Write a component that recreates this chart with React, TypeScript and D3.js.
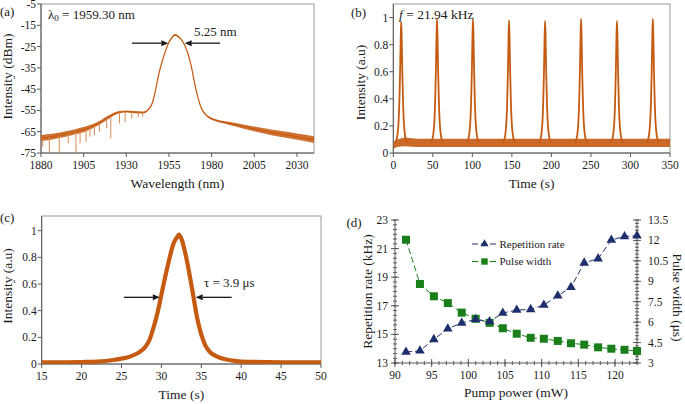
import React from 'react';
import * as d3 from 'd3';

const FONT = "'Liberation Serif', 'Times New Roman', serif";
const ORANGE = '#C55A11';
const AXIS = '#595959';
const FRAME = '#9a9a9a';
const NAVY = '#1F2F6E';
const GREEN = '#1A7F1A';

// ---------- (a) optical spectrum ----------
const wavelength = [1880, 1885, 1890, 1895, 1900, 1905, 1910, 1915, 1920, 1925, 1930, 1935, 1940, 1943, 1945, 1947, 1949, 1951, 1953, 1955, 1957, 1958.5, 1960, 1962, 1964, 1966, 1968, 1970, 1972, 1974, 1976, 1978, 1982, 1990, 2000, 2010, 2020, 2030, 2040];
const spectrumDbm = [-68, -67.5, -66.8, -66, -65, -64, -62.5, -60.5, -58, -56, -55.5, -55.8, -56, -54.5, -52, -46, -38, -32, -27, -23, -20.5, -19.5, -20, -21.5, -24, -28, -34, -42, -49, -54, -56.5, -58, -59.5, -61, -62.8, -64.5, -66, -67.3, -68.7];
const spectrumNoise = [1.4, 1.4, 1.3, 1.3, 1.2, 1.2, 1.0, 0.9, 0.8, 0.6, 0.5, 0.5, 0.5, 0.3, 0.2, 0.2, 0.2, 0.2, 0.2, 0.3, 0.4, 0.4, 0.4, 0.3, 0.2, 0.2, 0.2, 0.2, 0.2, 0.2, 0.3, 0.4, 0.5, 0.7, 1.0, 1.2, 1.4, 1.5, 1.6];
const dipWavelength = [1881, 1884.9, 1890.7, 1896, 1900.5, 1902.9, 1906.4, 1908.7, 1911.3, 1914.2, 1918.5, 1920.9, 1926, 1929.3, 1933.2, 1937, 1939.6];
const dipDbm = [-72, -75, -75, -70.4, -75, -70.4, -69.7, -67.3, -66.5, -65, -63.4, -68.1, -61, -60.3, -58.7, -58.2, -57.9];
const spectrumXTicks = [1880, 1905, 1930, 1955, 1980, 2005, 2030];
const spectrumYTicks = [-75, -65, -55, -45, -35, -25, -15, -5];
const fwhmArrowsA = [[1933.3, 1954.6], [1985, 1964.2]];
const fwhmLevelA = -23.4;

// ---------- (b) pulse train ----------
const pulseTimes = [10, 55.3, 100.8, 146.4, 192, 237.5, 282.9, 328.3];
const pulseHeights = [0.97, 0.99, 0.99, 0.98, 0.975, 0.99, 0.975, 0.99];
const pulseOffsets = [-8, -6, -4.5, -3.3, -2.3, -1.4, -0.6, 0, 0.6, 1.4, 2.3, 3.3, 4.5, 6, 8];
const pulseShape = [0.08, 0.1, 0.15, 0.24, 0.4, 0.62, 0.88, 1, 0.88, 0.62, 0.4, 0.24, 0.15, 0.1, 0.08];
const baselineTimes = [0, 4, 14, 30, 50, 350];
const baselineLow = [0.03, 0.045, 0.05, 0.045, 0.045, 0.045];
const baselineHigh = [0.08, 0.1, 0.115, 0.105, 0.105, 0.105];
const trainXTicks = [0, 50, 100, 150, 200, 250, 300, 350];
const trainYTicks = [0, 0.2, 0.4, 0.6, 0.8, 1];

// ---------- (c) single pulse ----------
const singleTime = [15, 20, 22, 24, 25, 26, 27, 28, 28.5, 29, 29.5, 30, 30.5, 31, 31.5, 32, 32.2, 32.5, 33, 33.5, 34, 34.5, 35, 35.5, 36, 37, 38, 39, 40, 45, 50];
const singleIntensity = [0.012, 0.015, 0.018, 0.03, 0.04, 0.055, 0.08, 0.13, 0.18, 0.27, 0.38, 0.52, 0.66, 0.79, 0.9, 0.955, 0.97, 0.94, 0.83, 0.68, 0.51, 0.34, 0.22, 0.14, 0.095, 0.055, 0.035, 0.025, 0.018, 0.013, 0.012];
const singleXTicks = [15, 20, 25, 30, 35, 40, 45, 50];
const singleYTicks = [0, 0.2, 0.4, 0.6, 0.8, 1];
const fwhmArrowsC = [[25.3, 29.8], [38.8, 34.3]];
const fwhmLevelC = 0.5;

// ---------- (d) vs pump power ----------
const pumpPower = [91.5, 93.4, 95.3, 97.2, 99.1, 101, 102.9, 104.7, 106.6, 108.5, 110.3, 112.2, 114, 115.8, 117.7, 119.5, 121.3, 123];
const repRate = [13.77, 13.85, 14.65, 15.4, 15.8, 16.05, 15.9, 16.5, 16.7, 16.75, 17.05, 17.7, 18.3, 20.0, 20.3, 21.6, 21.85, 21.9];
const pulseWidth = [12.05, 8.8, 7.9, 7.4, 6.7, 6.25, 5.95, 5.55, 5.15, 4.85, 4.78, 4.62, 4.45, 4.35, 4.15, 4.05, 3.97, 3.88];
const pumpTicks = [90, 95, 100, 105, 110, 115, 120];
const repTicks = [13, 15, 17, 19, 21, 23];
const widthTicks = [3, 4.5, 6, 7.5, 9, 10.5, 12, 13.5];
const legendLabels = ['Repetition rate', 'Pulse width'];

type Box = { l: number; r: number; t: number; b: number };

function T(props: any) {
  const { children, ...rest } = props;
  return <text fontFamily={FONT} fill="#1a1a1a" {...rest}>{children}</text>;
}

function FramedAxes({ box, x, y, xTicks, yTicks }: { box: Box; x: any; y: any; xTicks: number[]; yTicks: number[] }) {
  return (
    <g>
      <rect x={box.l} y={box.t} width={box.r - box.l} height={box.b - box.t} fill="none" stroke={FRAME} strokeWidth={1} />
      <line x1={box.l} x2={box.l} y1={box.t} y2={box.b} stroke={AXIS} strokeWidth={1} />
      <line x1={box.l} x2={box.r} y1={box.b} y2={box.b} stroke={AXIS} strokeWidth={1} />
      {xTicks.map((v) => (
        <g key={'x' + v}>
          <line x1={x(v)} x2={x(v)} y1={box.b} y2={box.b + 4} stroke={AXIS} />
          <T x={x(v)} y={box.b + 15.5} fontSize={11.5} textAnchor="middle">{v}</T>
        </g>
      ))}
      {yTicks.map((v) => (
        <g key={'y' + v}>
          <line x1={box.l - 4} x2={box.l} y1={y(v)} y2={y(v)} stroke={AXIS} />
          <T x={box.l - 5} y={y(v)} dy="0.35em" fontSize={11.5} textAnchor="end">{v}</T>
        </g>
      ))}
    </g>
  );
}

function Arrow({ x1, x2, y }: { x1: number; x2: number; y: number }) {
  const dir = Math.sign(x2 - x1);
  const hl = 7;
  return (
    <g>
      <line x1={x1} x2={x2 - dir * hl} y1={y} y2={y} stroke="#1a1a1a" strokeWidth={1.3} />
      <path d={`M${x2},${y} L${x2 - dir * hl},${y - 3} L${x2 - dir * hl},${y + 3} Z`} fill="#1a1a1a" />
    </g>
  );
}

function PanelA() {
  const box: Box = { l: 41, r: 314, t: 4, b: 153 };
  const x = d3.scaleLinear().domain([1880, 2040]).range([box.l, box.r]);
  const y = d3.scaleLinear().domain([-75, -5]).range([box.b, box.t]);
  const idx = d3.range(wavelength.length);
  const area = d3.area<number>().x((i) => x(wavelength[i])).y0((i) => y(spectrumDbm[i] - spectrumNoise[i])).y1((i) => y(spectrumDbm[i] + spectrumNoise[i])).curve(d3.curveMonotoneX);
  const line = d3.line<number>().x((i) => x(wavelength[i])).y((i) => y(spectrumDbm[i])).curve(d3.curveMonotoneX);
  const baseAt = d3.scaleLinear().domain(wavelength).range(spectrumDbm);
  return (
    <g>
      <FramedAxes box={box} x={x} y={y} xTicks={spectrumXTicks} yTicks={spectrumYTicks} />
      <g clipPath="url(#clipA)">
        <path d={area(idx) || ''} fill={ORANGE} opacity={0.85} />
        <path d={line(idx) || ''} fill="none" stroke={ORANGE} strokeWidth={1.2} />
        {dipWavelength.map((w, i) => (
          <line key={i} x1={x(w)} x2={x(w)} y1={y(baseAt(w))} y2={y(dipDbm[i])} stroke="#D98A52" strokeWidth={1} />
        ))}
      </g>
      <Arrow x1={x(fwhmArrowsA[0][0])} x2={x(fwhmArrowsA[0][1])} y={y(fwhmLevelA)} />
      <Arrow x1={x(fwhmArrowsA[1][0])} x2={x(fwhmArrowsA[1][1])} y={y(fwhmLevelA)} />
      <T x={194} y={36} fontSize={13}>5.25 nm</T>
      <T x={48} y={18.5} fontSize={13}>λ<tspan fontSize={9} dy={2}>0</tspan><tspan dy={-2}> = 1959.30 nm</tspan></T>
      <T x={0} y={16} fontSize={13}>(a)</T>
      <T x={(box.l + box.r) / 2} y={187.5} fontSize={13.5} textAnchor="middle">Wavelength (nm)</T>
      <T transform={`translate(12,${(box.t + box.b) / 2 - 2}) rotate(-90)`} fontSize={13.5} textAnchor="middle">Intensity (dBm)</T>
    </g>
  );
}

function PanelB() {
  const box: Box = { l: 393.3, r: 670, t: 4, b: 153 };
  const x = d3.scaleLinear().domain([0, 350]).range([box.l, box.r]);
  const y = d3.scaleLinear().domain([0, 1.1]).range([box.b, box.t]);
  const bIdx = d3.range(baselineTimes.length);
  const band = d3.area<number>().x((i) => x(baselineTimes[i])).y0((i) => y(baselineLow[i])).y1((i) => y(baselineHigh[i]));
  const pulseLine = d3.line<number>().curve(d3.curveMonotoneX);
  return (
    <g>
      <FramedAxes box={box} x={x} y={y} xTicks={trainXTicks} yTicks={trainYTicks} />
      <g clipPath="url(#clipB)">
        <path d={band(bIdx) || ''} fill={ORANGE} opacity={0.9} />
        {pulseTimes.map((t0, k) => (
          <path key={k} d={pulseLine(pulseOffsets.map((o, j) => [x(t0 + o), y(pulseShape[j] * pulseHeights[k])] as [number, number])) || ''} fill="none" stroke={ORANGE} strokeWidth={1.8} />
        ))}
      </g>
      <T x={399} y={18.5} fontSize={13.5}><tspan fontStyle="italic">f</tspan> = 21.94 kHz</T>
      <T x={351} y={17} fontSize={13}>(b)</T>
      <T x={(box.l + box.r) / 2} y={187.5} fontSize={13.5} textAnchor="middle">Time (s)</T>
      <T transform={`translate(365,${(box.t + box.b) / 2 + 4}) rotate(-90)`} fontSize={13.5} textAnchor="middle">Intensity (a.u)</T>
    </g>
  );
}

function PanelC() {
  const box: Box = { l: 41.7, r: 321, t: 216, b: 364 };
  const x = d3.scaleLinear().domain([15, 50]).range([box.l, box.r]);
  const y = d3.scaleLinear().domain([0, 1.11]).range([box.b, box.t]);
  const idx = d3.range(singleTime.length);
  const line = d3.line<number>().x((i) => x(singleTime[i])).y((i) => y(singleIntensity[i])).curve(d3.curveMonotoneX);
  return (
    <g>
      <FramedAxes box={box} x={x} y={y} xTicks={singleXTicks} yTicks={singleYTicks} />
      <g clipPath="url(#clipC)">
        <path d={line(idx) || ''} fill="none" stroke={ORANGE} strokeWidth={4.2} />
      </g>
      <Arrow x1={x(fwhmArrowsC[0][0])} x2={x(fwhmArrowsC[0][1])} y={y(fwhmLevelC)} />
      <Arrow x1={x(fwhmArrowsC[1][0])} x2={x(fwhmArrowsC[1][1])} y={y(fwhmLevelC)} />
      <T x={204} y={287} fontSize={13}>τ = 3.9 μs</T>
      <T x={0} y={222} fontSize={13}>(c)</T>
      <T x={(box.l + box.r) / 2} y={399} fontSize={13.5} textAnchor="middle">Time (s)</T>
      <T transform={`translate(12,${(box.t + box.b) / 2 - 4}) rotate(-90)`} fontSize={13.5} textAnchor="middle">Intensity (a.u)</T>
    </g>
  );
}

function PanelD() {
  const box: Box = { l: 395, r: 637, t: 220, b: 363 };
  const x = d3.scaleLinear().domain([90, 123]).range([box.l, box.r]);
  const yL = d3.scaleLinear().domain([13, 23]).range([box.b, box.t]);
  const yR = d3.scaleLinear().domain([3, 13.5]).range([box.b, box.t]);
  const idx = d3.range(pumpPower.length);
  const lineL = d3.line<number>().x((i) => x(pumpPower[i])).y((i) => yL(repRate[i]));
  const lineR = d3.line<number>().x((i) => x(pumpPower[i])).y((i) => yR(pulseWidth[i]));
  const tri = d3.symbol(d3.symbolTriangle, 40)() || '';
  const sq = d3.symbol(d3.symbolSquare, 64)() || '';
  const minorX = d3.range(90, 123.01, 1);
  const minorL = d3.range(13, 23.001, 1 / 3);
  const minorR = d3.range(3, 13.501, 0.25);
  const legendY = [244, 261.5];
  return (
    <g>
      <line x1={box.l} x2={box.l} y1={box.t} y2={box.b} stroke={AXIS} />
      <line x1={box.r} x2={box.r} y1={box.t} y2={box.b} stroke={AXIS} />
      <line x1={box.l} x2={box.r} y1={box.b} y2={box.b} stroke={AXIS} />
      {minorX.map((v) => <line key={'mx' + v} x1={x(v)} x2={x(v)} y1={box.b - 2} y2={box.b + 2} stroke={AXIS} />)}
      {minorL.map((v, i) => <line key={'ml' + i} x1={box.l - 2} x2={box.l + 2} y1={yL(v)} y2={yL(v)} stroke={AXIS} />)}
      {minorR.map((v, i) => <line key={'mr' + i} x1={box.r - 2} x2={box.r + 2} y1={yR(v)} y2={yR(v)} stroke={AXIS} />)}
      {pumpTicks.map((v) => (
        <g key={'x' + v}>
          <line x1={x(v)} x2={x(v)} y1={box.b - 4} y2={box.b + 4} stroke={AXIS} />
          <T x={x(v)} y={box.b + 15.5} fontSize={11.5} textAnchor="middle">{v}</T>
        </g>
      ))}
      {repTicks.map((v) => (
        <g key={'l' + v}>
          <line x1={box.l - 4} x2={box.l + 4} y1={yL(v)} y2={yL(v)} stroke={AXIS} />
          <T x={box.l - 7} y={yL(v)} dy="0.35em" fontSize={11.5} textAnchor="end">{v}</T>
        </g>
      ))}
      {widthTicks.map((v) => (
        <g key={'r' + v}>
          <line x1={box.r - 4} x2={box.r + 4} y1={yR(v)} y2={yR(v)} stroke={AXIS} />
          <T x={box.r + 11} y={yR(v)} dy="0.35em" fontSize={11.5} textAnchor="start">{v}</T>
        </g>
      ))}
      <path d={lineR(idx) || ''} fill="none" stroke={GREEN} strokeWidth={1} strokeDasharray="6,3" />
      <path d={lineL(idx) || ''} fill="none" stroke={NAVY} strokeWidth={1} strokeDasharray="6,3" />
      {idx.map((i) => <path key={'s' + i} d={sq} transform={`translate(${x(pumpPower[i])},${yR(pulseWidth[i])})`} fill={GREEN} />)}
      {idx.map((i) => <path key={'t' + i} d={tri} transform={`translate(${x(pumpPower[i])},${yL(repRate[i])})`} fill={NAVY} />)}
      {legendLabels.map((lab, k) => (
        <g key={lab}>
          <line x1={472} x2={497} y1={legendY[k]} y2={legendY[k]} stroke={k === 0 ? NAVY : GREEN} strokeDasharray="6,3" />
          <path d={k === 0 ? tri : sq} transform={`translate(484.5,${legendY[k]}) scale(${k === 0 ? 0.85 : 0.8})`} fill={k === 0 ? NAVY : GREEN} />
          <T x={499.5} y={legendY[k]} dy="0.35em" fontSize={11}>{lab}</T>
        </g>
      ))}
      <T x={346.5} y={226.5} fontSize={13}>(d)</T>
      <T x={(box.l + box.r) / 2} y={397} fontSize={13.5} textAnchor="middle">Pump power (mW)</T>
      <T transform={`translate(372,${(box.t + box.b) / 2}) rotate(-90)`} fontSize={13.5} textAnchor="middle">Repetition rate (kHz)</T>
      <T transform={`translate(673,${(box.t + box.b) / 2 + 6}) rotate(90)`} fontSize={13.5} textAnchor="middle">Pulse width (μs)</T>
    </g>
  );
}

export default function App() {
  return (
    <svg width={685} height={404} viewBox="0 0 685 404" style={{ position: 'absolute', left: 0, top: 0, background: '#fff' }}>
      <defs>
        <clipPath id="clipA"><rect x={41} y={4} width={273} height={149} /></clipPath>
        <clipPath id="clipB"><rect x={393.3} y={4} width={276.7} height={149} /></clipPath>
        <clipPath id="clipC"><rect x={41.7} y={216} width={279.3} height={148} /></clipPath>
      </defs>
      <rect width={685} height={404} fill="#fff" />
      <PanelA />
      <PanelB />
      <PanelC />
      <PanelD />
    </svg>
  );
}
